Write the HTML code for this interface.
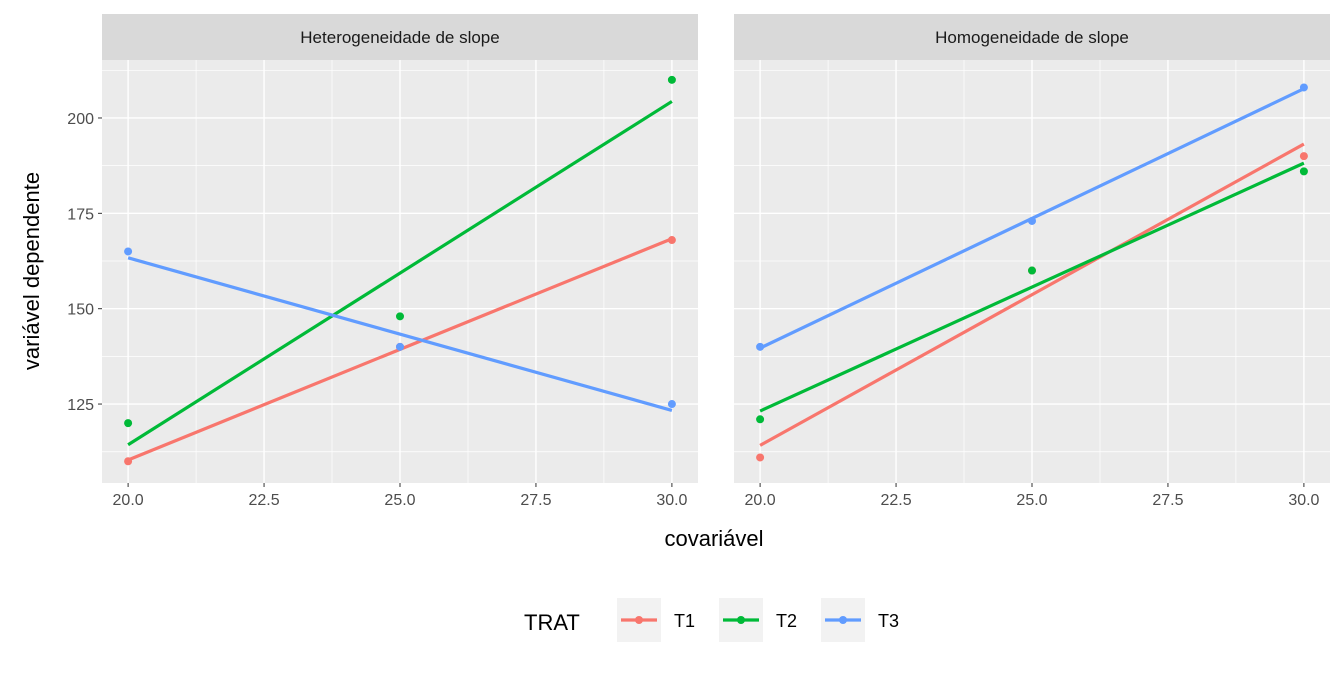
<!DOCTYPE html>
<html><head><meta charset="utf-8">
<style>body{margin:0;background:#fff;font-family:"Liberation Sans",sans-serif}</style></head>
<body>
<svg id="chart" width="1344" height="672" xmlns="http://www.w3.org/2000/svg" font-family="Liberation Sans, sans-serif"></svg>
<script>
const panels = ["Heterogeneidade de slope", "Homogeneidade de slope"];
const groups = ["T1", "T2", "T3"];
const colors = ["#F8766D", "#00BA38", "#619CFF"];
const xValues = [20, 25, 30];
const heteroT1 = [110, 140, 168];
const heteroT2 = [120, 148, 210];
const heteroT3 = [165, 140, 125];
const homoT1 = [111, 160, 190];
const homoT2 = [121, 160, 186];
const homoT3 = [140, 173, 208];
const xTicks = [20, 22.5, 25, 27.5, 30];
const xTickLabels = ["20.0", "22.5", "25.0", "27.5", "30.0"];
const yTicks = [125, 150, 175, 200];
const panelData = [[heteroT1, heteroT2, heteroT3], [homoT1, homoT2, homoT3]];

const svg = document.getElementById('chart');
const NS = "http://www.w3.org/2000/svg";
function mk(tag, attrs, parent, text) {
  const e = document.createElementNS(NS, tag);
  for (const k in attrs) e.setAttribute(k, attrs[k]);
  if (text !== undefined) e.textContent = text;
  (parent || svg).appendChild(e);
  return e;
}
const panelLeft = [102, 734], panelW = 596, plotTop = 60, plotBottom = 483;
const xmin = 19.52, xmax = 30.48, ymin = 104.3, ymax = 215.2;
function sx(p, v) { return panelLeft[p] + (v - xmin) / (xmax - xmin) * panelW; }
function sy(v) { return plotBottom - (v - ymin) / (ymax - ymin) * (plotBottom - plotTop); }
function fit(ys) {
  const mx = xValues.reduce((a, b) => a + b) / xValues.length;
  const my = ys.reduce((a, b) => a + b) / ys.length;
  let num = 0, den = 0;
  xValues.forEach((x, i) => { num += (x - mx) * (ys[i] - my); den += (x - mx) ** 2; });
  const b = num / den;
  return x => my + b * (x - mx);
}

panels.forEach((title, p) => {
  const g = mk('g', {});
  
  
  const bg = mk('rect', {x: panelLeft[p], y: plotTop, width: panelW, height: plotBottom - plotTop, fill: '#EBEBEB'}, g);
  
  
  for (let i = 0; i < xTicks.length - 1; i++) {
    const m = (xTicks[i] + xTicks[i + 1]) / 2;
    mk('line', {x1: sx(p, m), x2: sx(p, m), y1: plotTop, y2: plotBottom, stroke: '#fff', 'stroke-width': 0.7}, g);
  }
  [112.5, 137.5, 162.5, 187.5, 212.5].forEach(v => mk('line', {x1: panelLeft[p], x2: panelLeft[p] + panelW, y1: sy(v), y2: sy(v), stroke: '#fff', 'stroke-width': 0.7}, g));
  xTicks.forEach((t, i) => {
    mk('line', {x1: sx(p, t), x2: sx(p, t), y1: plotTop, y2: plotBottom, stroke: '#fff', 'stroke-width': 1.4}, g);
    mk('line', {x1: sx(p, t), x2: sx(p, t), y1: plotBottom, y2: plotBottom + 4, stroke: '#333', 'stroke-width': 1}, g);
    const tl = mk('text', {x: sx(p, t), y: plotBottom + 22, 'text-anchor': 'middle', 'font-size': 16, fill: '#4D4D4D'}, g, xTickLabels[i]);
    
    
  });
  yTicks.forEach(t => mk('line', {x1: panelLeft[p], x2: panelLeft[p] + panelW, y1: sy(t), y2: sy(t), stroke: '#fff', 'stroke-width': 1.4}, g));
  const strip = mk('rect', {x: panelLeft[p], y: 14, width: panelW, height: 46, fill: '#D9D9D9'}, g);
  
  
  const st = mk('text', {x: panelLeft[p] + panelW / 2, y: 43, 'text-anchor': 'middle', 'font-size': 17, fill: '#1A1A1A'}, g, title);
  
  
  panelData[p].forEach((ys, k) => {
    const f = fit(ys);
    const ln = mk('line', {x1: sx(p, 20), y1: sy(f(20)), x2: sx(p, 30), y2: sy(f(30)), stroke: colors[k], 'stroke-width': 3.2}, g);
    
    
    ys.forEach((y, i) => {
      const c = mk('circle', {cx: sx(p, xValues[i]), cy: sy(y), r: 4, fill: colors[k]}, g);
      
      
    });
  });
});
yTicks.forEach(t => {
  mk('line', {x1: 98, x2: 102, y1: sy(t), y2: sy(t), stroke: '#333'});
  const tl = mk('text', {x: 94, y: sy(t) + 6, 'text-anchor': 'end', 'font-size': 16, fill: '#4D4D4D'}, svg, t);
  
  
});
const xt = mk('text', {x: 714, y: 546, 'text-anchor': 'middle', 'font-size': 22, fill: '#000'}, svg, 'covariável');


const yt = mk('text', {x: 39, y: 271, 'text-anchor': 'middle', 'font-size': 22, fill: '#000', transform: 'rotate(-90 39 271)'}, svg, 'variável dependente');


const lt = mk('text', {x: 524, y: 630, 'font-size': 22, fill: '#000'}, svg, 'TRAT');


const legX = [617, 719, 821];
groups.forEach((gname, k) => {
  const lg = mk('g', {});
  
  
  mk('rect', {x: legX[k], y: 598, width: 44, height: 44, fill: '#F2F2F2'}, lg);
  mk('line', {x1: legX[k] + 4, x2: legX[k] + 40, y1: 620, y2: 620, stroke: colors[k], 'stroke-width': 3.2}, lg);
  mk('circle', {cx: legX[k] + 22, cy: 620, r: 4, fill: colors[k]}, lg);
  mk('text', {x: legX[k] + 57, y: 627, 'font-size': 18, fill: '#000'}, lg, gname);
});
</script>
</body></html>
